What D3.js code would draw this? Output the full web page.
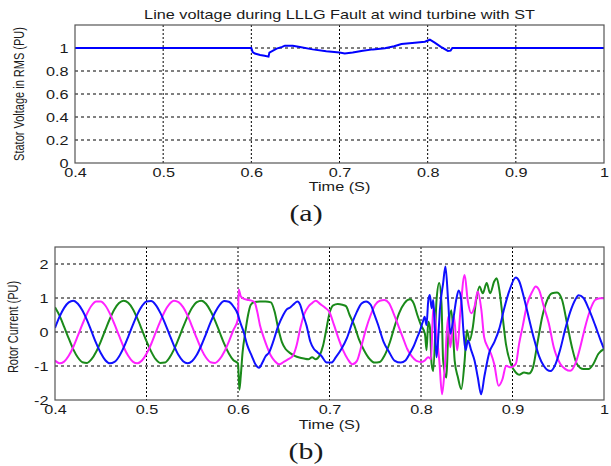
<!DOCTYPE html>
<html>
<head>
<meta charset="utf-8">
<script src="https://cdn.jsdelivr.net/npm/d3@7"></script>
<style>
  body { margin: 0; background: #fff; }
  svg { display: block; }
</style>
</head>
<body>
<div id="chart"></div>
<script>
// (a) stator voltage, RMS
var voltTime  = [0.4, 0.6, 0.6015, 0.604, 0.61, 0.615, 0.6195, 0.6205, 0.623, 0.6287, 0.635, 0.638, 0.647, 0.655, 0.6695, 0.685, 0.7, 0.706, 0.715, 0.7264, 0.738, 0.7515, 0.762, 0.7703, 0.7855, 0.7968, 0.8025, 0.808, 0.815, 0.823, 0.826, 0.828, 1.0];
var voltValue = [1, 1, 0.965, 0.952, 0.94, 0.933, 0.925, 0.96, 0.97, 0.995, 1.01, 1.02, 1.02, 1.008, 0.988, 0.972, 0.96, 0.952, 0.96, 0.977, 0.988, 0.997, 1.015, 1.035, 1.046, 1.055, 1.072, 1.046, 1.01, 0.975, 0.977, 1.0, 1.0];

// (b) rotor current, [time, PU]
var rotorBlue = [
  [0.400,0.12],[0.405,0.45],[0.410,0.71],[0.415,0.87],[0.420,0.92],[0.425,0.83],[0.430,0.63],[0.435,0.35],
  [0.440,0.01],[0.445,-0.33],[0.450,-0.62],[0.455,-0.83],[0.460,-0.92],[0.465,-0.88],[0.470,-0.72],[0.475,-0.46],
  [0.480,-0.14],[0.485,0.20],[0.490,0.52],[0.495,0.76],[0.500,0.90],[0.505,0.91],[0.510,0.80],[0.515,0.57],
  [0.520,0.27],[0.525,-0.07],[0.530,-0.40],[0.535,-0.68],[0.540,-0.86],[0.545,-0.92],[0.550,-0.85],[0.555,-0.67],
  [0.560,-0.39],[0.565,-0.06],[0.570,0.28],[0.575,0.58],[0.580,0.80],[0.585,0.91],[0.590,0.89],[0.595,0.75],
  [0.600,0.51],[0.602,0.32],[0.606,0.02],[0.610,-0.38],[0.615,-0.70],[0.619,-0.95],[0.623,-1.05],[0.627,-0.88],
  [0.630,-0.72],[0.634,-0.60],[0.638,-0.32],[0.644,0.18],[0.649,0.48],[0.653,0.66],[0.657,0.72],[0.661,0.82],
  [0.665,0.90],[0.668,0.80],[0.671,0.52],[0.675,0.18],[0.679,-0.28],[0.683,-0.50],[0.687,-0.60],[0.691,-0.70],
  [0.697,-0.90],[0.702,-0.90],[0.707,-0.74],[0.713,-0.50],[0.719,-0.18],[0.725,0.28],[0.730,0.60],[0.735,0.84],
  [0.740,0.90],[0.745,0.80],[0.749,0.52],[0.753,0.22],[0.759,-0.28],[0.765,-0.58],[0.771,-0.84],[0.778,-0.90],
  [0.783,-0.84],[0.788,-0.62],[0.792,-0.42],[0.796,-0.15],[0.799,0.05],[0.802,0.30],[0.804,0.45],[0.806,0.20],
  [0.808,0.94],[0.8097,1.09],[0.8116,0.70],[0.8134,0.94],[0.8152,0.05],[0.8170,-0.74],[0.8190,-0.10],[0.8206,0.64],
  [0.8242,1.44],[0.8267,1.93],[0.8296,0.94],[0.8321,-0.05],[0.8357,0.45],[0.8385,0.95],[0.8412,1.22],[0.8440,0.94],
  [0.8466,-0.05],[0.8487,-0.54],[0.8513,-0.25],[0.8549,-0.54],[0.8585,-0.84],[0.8621,-1.34],[0.8657,-1.83],[0.8693,-1.30],
  [0.8747,-0.60],[0.8801,-0.30],[0.8856,0.10],[0.8910,0.70],[0.8964,1.20],[0.9036,1.60],[0.9072,1.50],[0.9126,1.00],
  [0.9180,0.40],[0.9235,-0.20],[0.9289,-0.70],[0.9343,-1.00],[0.9415,-1.15],[0.9469,-0.95],[0.9523,-0.50],[0.9578,0.10],
  [0.9632,0.60],[0.9686,0.95],[0.9722,1.08],[0.9776,1.00],[0.9830,0.70],[0.9903,0.20],[0.9957,-0.20],[1.0,-0.50]
];
var rotorMagenta = [
  [0.400,-0.84],[0.405,-0.92],[0.410,-0.87],[0.415,-0.70],[0.420,-0.44],[0.425,-0.11],[0.430,0.23],[0.435,0.54],
  [0.440,0.78],[0.445,0.90],[0.450,0.90],[0.455,0.78],[0.460,0.54],[0.465,0.23],[0.470,-0.11],[0.475,-0.44],
  [0.480,-0.70],[0.485,-0.87],[0.490,-0.92],[0.495,-0.84],[0.500,-0.64],[0.505,-0.36],[0.510,-0.02],[0.515,0.31],
  [0.520,0.61],[0.525,0.82],[0.530,0.92],[0.535,0.88],[0.540,0.73],[0.545,0.48],[0.550,0.15],[0.555,-0.19],
  [0.560,-0.51],[0.565,-0.75],[0.570,-0.89],[0.575,-0.91],[0.580,-0.80],[0.585,-0.58],[0.590,-0.28],[0.595,0.06],
  [0.600,0.39],[0.6008,1.25],[0.603,1.05],[0.606,0.98],[0.610,0.95],[0.614,0.93],[0.618,0.88],[0.621,0.60],
  [0.624,0.20],[0.628,-0.15],[0.632,-0.45],[0.636,-0.70],[0.640,-0.85],[0.645,-0.95],[0.650,-0.88],[0.655,-0.80],
  [0.660,-0.70],[0.664,-0.40],[0.668,0.10],[0.672,0.50],[0.677,0.75],[0.681,0.85],[0.685,0.92],[0.690,0.82],
  [0.695,0.72],[0.700,0.58],[0.705,0.20],[0.710,-0.20],[0.715,-0.55],[0.720,-0.80],[0.725,-0.95],[0.730,-0.85],
  [0.735,-0.40],[0.740,0.10],[0.745,0.50],[0.750,0.80],[0.755,0.92],[0.760,0.94],[0.765,0.85],[0.770,0.55],
  [0.775,0.20],[0.780,-0.15],[0.785,-0.50],[0.790,-0.72],[0.795,-0.85],[0.800,-0.88],[0.804,-0.84],[0.808,-0.74],
  [0.811,-0.80],[0.8134,0.74],[0.817,-0.05],[0.820,-0.84],[0.823,-1.83],[0.826,-1.04],[0.8296,0.45],[0.832,-0.45],
  [0.836,0.45],[0.8396,-0.54],[0.843,0.60],[0.8477,1.68],[0.851,0.94],[0.855,0.55],[0.8585,0.74],[0.862,1.19],
  [0.866,0.64],[0.869,-0.15],[0.873,-0.45],[0.8765,-0.64],[0.880,-0.94],[0.8848,-1.58],[0.889,-1.39],[0.893,-0.99],
  [0.898,-1.04],[0.9036,-0.94],[0.9072,-0.35],[0.911,0.15],[0.9162,0.84],[0.9217,1.19],[0.9253,1.34],[0.929,1.24],
  [0.9343,0.74],[0.9397,0.25],[0.9451,-0.45],[0.9523,-0.94],[0.9578,-1.09],[0.9632,-1.14],[0.9686,-0.94],[0.974,-0.45],
  [0.9794,0.15],[0.9848,0.64],[0.9903,0.94],[0.9957,0.99],[1.0,0.99]
];
var rotorGreen = [
  [0.400,0.73],[0.405,0.48],[0.410,0.15],[0.415,-0.19],[0.420,-0.51],[0.425,-0.75],[0.430,-0.89],[0.435,-0.91],
  [0.440,-0.80],[0.445,-0.58],[0.450,-0.28],[0.455,0.06],[0.460,0.39],[0.465,0.67],[0.470,0.85],[0.475,0.92],
  [0.480,0.86],[0.485,0.68],[0.490,0.40],[0.495,0.07],[0.500,-0.27],[0.505,-0.57],[0.510,-0.80],[0.515,-0.91],
  [0.520,-0.90],[0.525,-0.76],[0.530,-0.52],[0.535,-0.20],[0.540,0.14],[0.545,0.46],[0.550,0.72],[0.555,0.88],
  [0.560,0.92],[0.565,0.83],[0.570,0.62],[0.575,0.33],[0.580,-0.01],[0.585,-0.35],[0.590,-0.63],[0.595,-0.83],
  [0.600,-0.92],[0.6015,-1.70],[0.603,-1.30],[0.605,-0.60],[0.608,0.00],[0.611,0.50],[0.614,0.80],[0.618,0.88],
  [0.624,0.90],[0.630,0.90],[0.636,0.87],[0.640,0.60],[0.644,0.10],[0.648,-0.30],[0.652,-0.50],[0.657,-0.62],
  [0.662,-0.70],[0.667,-0.75],[0.672,-0.78],[0.677,-0.80],[0.681,-0.74],[0.685,-0.80],[0.689,-0.70],[0.693,-0.40],
  [0.696,0.00],[0.700,0.55],[0.704,0.78],[0.709,0.82],[0.714,0.80],[0.718,0.76],[0.722,0.50],[0.727,0.20],
  [0.732,-0.20],[0.738,-0.55],[0.744,-0.80],[0.749,-0.90],[0.755,-0.88],[0.760,-0.70],[0.766,-0.30],[0.771,0.15],
  [0.776,0.55],[0.782,0.85],[0.788,0.96],[0.792,0.84],[0.796,0.50],[0.800,0.20],[0.8043,-0.05],[0.8061,-0.54],
  [0.8079,0.30],[0.8097,0.15],[0.8116,-0.94],[0.8134,-1.15],[0.817,0.94],[0.8199,1.44],[0.8224,0.84],[0.8242,-0.84],
  [0.8278,-1.34],[0.8296,-0.15],[0.8332,0.64],[0.8368,-0.84],[0.8404,-1.34],[0.844,-1.68],[0.8477,-0.84],[0.8502,0.05],
  [0.8531,-0.25],[0.8567,0.15],[0.8603,0.94],[0.8639,1.34],[0.8675,1.14],[0.8718,1.44],[0.8755,1.14],[0.8801,1.49],
  [0.8827,1.58],[0.8856,1.24],[0.8892,0.45],[0.8928,-0.35],[0.8982,-0.94],[0.9036,-1.19],[0.9072,-1.26],[0.9126,-1.19],
  [0.918,-1.22],[0.9224,-1.04],[0.9271,-0.35],[0.9325,0.45],[0.9379,0.94],[0.9433,1.14],[0.9487,1.16],[0.9542,0.94],
  [0.9596,0.25],[0.965,-0.45],[0.9704,-0.94],[0.9776,-1.09],[0.983,-1.09],[0.9884,-0.94],[0.9939,-0.64],[1.0,-0.50]
];

var timeTicks  = [0.4, 0.5, 0.6, 0.7, 0.8, 0.9, 1];
var voltTicks  = [0, 0.2, 0.4, 0.6, 0.8, 1];
var rotorTicks = [-2, -1, 0, 1, 2];

var fontSans = '"Liberation Sans", Arial, sans-serif',
  fontSerif = '"Liberation Serif", "Times New Roman", serif',
  textColor = '#1a1a1a',
  stretch = 1.3;   // the scan is stretched sideways

var svg = d3.select("#chart").append("svg")
  .attr("width", 611)
  .attr("height", 466);

// text with the sideways stretch of the original
function addText(x, y, str, size, anchor, rotate, family) {
  var t = "translate(" + x + "," + y + ") scale(" + stretch + ",1)";
  if (rotate) t += " rotate(" + rotate + ")";
  return svg.append("text")
    .attr("transform", t)
    .attr("text-anchor", anchor || "middle")
    .style("font-family", family || fontSans)
    .style("font-size", size + "px")
    .style("fill", textColor)
    .text(str);
}

function drawPanel(box, yDomain, yTicks, labelPad) {
  var x = d3.scaleLinear().domain([0.4, 1]).range([box.left, box.right]),
    y = d3.scaleLinear().domain(yDomain).range([box.bottom, box.top]);

  var g = svg.append("g");

  // grid
  g.selectAll(".hgrid")
    .data(yTicks.filter(function(d) { return y(d) > box.top + 1 && y(d) < box.bottom - 1; }))
    .enter().append("line")
      .attr("x1", box.left).attr("x2", box.right)
      .attr("y1", function(d) { return y(d); })
      .attr("y2", function(d) { return y(d); })
      .style("stroke", "#000").style("stroke-width", 1)
      .style("stroke-dasharray", "3,3");
  g.selectAll(".vgrid")
    .data(timeTicks.slice(1, -1))
    .enter().append("line")
      .attr("x1", function(d) { return x(d); })
      .attr("x2", function(d) { return x(d); })
      .attr("y1", box.top).attr("y2", box.bottom)
      .style("stroke", "#000").style("stroke-width", 1)
      .style("stroke-dasharray", "2,2");

  // tick labels
  var xa = g.append("g")
    .attr("transform", "translate(0," + box.bottom + ")")
    .call(d3.axisBottom(x).tickValues(timeTicks).tickSize(0).tickPadding(labelPad).tickFormat(d3.format("")));
  var ya = g.append("g")
    .attr("transform", "translate(" + box.left + ",0)")
    .call(d3.axisLeft(y).tickValues(yTicks).tickSize(0).tickFormat(function(d) { return String(d); }));
  [xa, ya].forEach(function(a) {
    a.select(".domain").remove();
    a.selectAll("text")
      .style("font-family", fontSans)
      .style("font-size", "12.5px")
      .style("fill", textColor);
  });
  xa.selectAll("text").attr("transform", "scale(" + stretch + ",1)");
  ya.selectAll("text").attr("x", -6.5 / stretch).attr("transform", "scale(" + stretch + ",1)");

  return { x: x, y: y, g: g };
}

// ---------- (a) ----------
var boxA = { left: 75, right: 604, top: 25, bottom: 163 };
var pa = drawPanel(boxA, [0, 1.2], voltTicks, 5);

svg.append("clipPath").attr("id", "clipA").append("rect")
  .attr("x", boxA.left).attr("y", boxA.top)
  .attr("width", boxA.right - boxA.left).attr("height", boxA.bottom - boxA.top);

pa.g.append("path")
  .datum(d3.range(voltTime.length))
  .attr("clip-path", "url(#clipA)")
  .attr("d", d3.line()
    .x(function(i) { return pa.x(voltTime[i]); })
    .y(function(i) { return pa.y(voltValue[i]); }))
  .style("fill", "none")
  .style("stroke", "#0000ff")
  .style("stroke-width", 2);

pa.g.append("rect")
  .attr("x", boxA.left).attr("y", boxA.top)
  .attr("width", boxA.right - boxA.left).attr("height", boxA.bottom - boxA.top)
  .style("fill", "none").style("stroke", "#555").style("stroke-width", 1.2);

addText(339.5, 19, "Line voltage  during LLLG Fault at wind turbine with ST", 12.5);
addText(339.5, 191, "Time (S)", 12.5);
addText(24, 94, "Stator Voltage in RMS (PU)", 11, "middle", -90);
addText(306, 221, "(a)", 23, "middle", 0, fontSerif);

// ---------- (b) ----------
var boxB = { left: 55, right: 604, top: 247, bottom: 400 };
var pb = drawPanel(boxB, [-2, 2.5], rotorTicks, 5);

svg.append("clipPath").attr("id", "clipB").append("rect")
  .attr("x", boxB.left).attr("y", boxB.top)
  .attr("width", boxB.right - boxB.left).attr("height", boxB.bottom - boxB.top);

var rotorLine = d3.line()
  .x(function(d) { return pb.x(d[0]); })
  .y(function(d) { return pb.y(d[1]); })
  .curve(d3.curveMonotoneX);

[[rotorGreen, "#1a8a1a"], [rotorMagenta, "#ff22ff"], [rotorBlue, "#1010ff"]].forEach(function(s) {
  pb.g.append("path")
    .datum(s[0])
    .attr("clip-path", "url(#clipB)")
    .attr("d", rotorLine)
    .style("fill", "none")
    .style("stroke", s[1])
    .style("stroke-width", 2);
});

pb.g.append("rect")
  .attr("x", boxB.left).attr("y", boxB.top)
  .attr("width", boxB.right - boxB.left).attr("height", boxB.bottom - boxB.top)
  .style("fill", "none").style("stroke", "#555").style("stroke-width", 1.2);

addText(329.5, 429, "Time (S)", 12.5);
addText(18, 327, "Rotor Current (PU)", 11, "middle", -90);
addText(306, 459, "(b)", 23, "middle", 0, fontSerif);
</script>
</body>
</html>
